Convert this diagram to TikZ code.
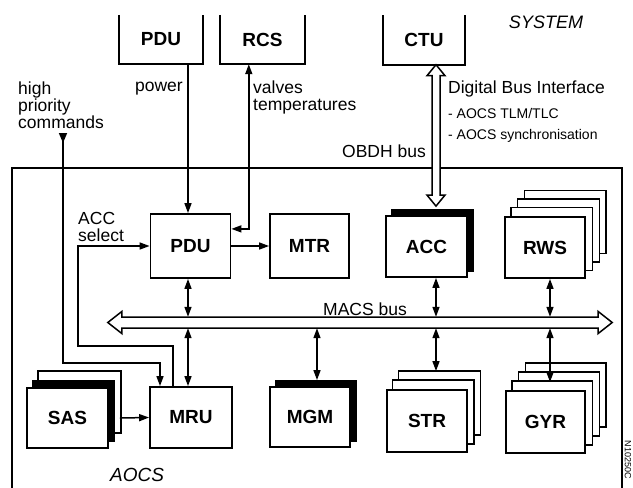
\documentclass[tikz,border=0pt]{standalone}
\usepackage{fontspec}
\setmainfont{Liberation Sans}
\usetikzlibrary{arrows.meta,calc,backgrounds}
\begin{document}
\begin{tikzpicture}[x=1pt,y=-1pt,
  boxlbl/.style={font=\fontsize{19}{19}\selectfont\bfseries},
  unitbox/.style={draw, line width=1.8pt, fill=white, minimum width=80pt, minimum height=62pt, inner sep=0pt, boxlbl},
  sysbox/.style={minimum width=84pt, minimum height=49pt, inner sep=0pt, boxlbl},
  pagebox/.style={draw, line width=1.4pt, fill=white},
  shadowfill/.style={fill=black, draw=black, line width=1pt},
  lbl/.style={font=\fontsize{17.5}{17}\selectfont, inner sep=0pt},
  smalllbl/.style={font=\fontsize{14}{15}\selectfont, inner sep=0pt},
  conn/.style={line width=1.5pt},
  onearrow/.style={-{Triangle[length=10pt,width=7pt]}},
  twoway/.style={{Triangle[length=10pt,width=7pt]}-{Triangle[length=10pt,width=7pt]}},
  hollow/.style={draw, line width=1.5pt, fill=white, line join=miter},
]
\useasboundingbox (0,0) rectangle (633,488);

% ---------- system level ----------
\node[sysbox] (sPDU) at (161,39.5) {PDU};
\node[sysbox, minimum width=85pt] (sRCS) at (262.5,39.5) {RCS};
\node[sysbox, minimum width=82pt] (sCTU) at (424,40) {CTU};
\foreach \n in {sPDU,sRCS,sCTU}
  \draw[line width=1.8pt] (\n.north west) -- (\n.south west) -- (\n.south east) -- (\n.north east);
\node[lbl, font=\fontsize{18}{18}\selectfont\itshape] (sysl) at (546,22) {SYSTEM};

% ---------- AOCS frame ----------
\draw[line width=1.8pt] (12,488) -- (12,168) -- (622,168) -- (622,488);
\node[lbl, font=\fontsize{19}{19}\selectfont\itshape] (aocsl) at (137,475) {AOCS};
\node[font=\fontsize{9}{9}\selectfont, rotate=-90, inner sep=0pt] (code) at (628,460) {N10250C};

% ---------- units ----------
\node[unitbox, minimum height=64pt] (aPDU) at (190.5,246) {PDU};
\node[unitbox, minimum width=79pt, minimum height=64pt] (MTR) at (309.5,246) {MTR};
\node[unitbox, minimum width=81pt, minimum height=61pt] (ACC) at (426.5,246.5) {ACC};
\node[unitbox, minimum height=61pt] (RWS) at (545,247.5) {RWS};
\node[unitbox, minimum width=81pt, minimum height=60pt] (SAS) at (67.5,418) {SAS};
\node[unitbox, minimum width=82pt, minimum height=61pt] (MRU) at (191,417.5) {MRU};
\node[unitbox, minimum height=60pt] (MGM) at (310,417) {MGM};
\node[unitbox] (STR) at (427,421) {STR};
\node[unitbox, minimum width=79pt] (GYR) at (545.5,422) {GYR};

\begin{pgfonlayer}{background}
  \foreach \k in {3,2,1}
    \draw[pagebox] ([shift={(6.7*\k,-8.5*\k)}]RWS.south west) rectangle ([shift={(6.7*\k,-8.5*\k)}]RWS.north east);
  \foreach \k in {3,2,1}
    \draw[pagebox] ([shift={(6.7*\k,-9*\k)}]GYR.south west) rectangle ([shift={(6.7*\k,-9*\k)}]GYR.north east);
  \foreach \k in {2,1}
    \draw[pagebox] ([shift={(6.2*\k,-9*\k)}]STR.south west) rectangle ([shift={(6.2*\k,-9*\k)}]STR.north east);
  \draw[pagebox] ([shift={(12,-16)}]SAS.south west) rectangle ([shift={(12,-16)}]SAS.north east);
  \draw[shadowfill] ([shift={(6,-7)}]SAS.south west) rectangle ([shift={(6,-7)}]SAS.north east);
  \draw[shadowfill] ([shift={(6,-6)}]ACC.south west) rectangle ([shift={(6,-6)}]ACC.north east);
  \draw[shadowfill] ([shift={(6,-6)}]MGM.south west) rectangle ([shift={(6,-6)}]MGM.north east);
\end{pgfonlayer}

% ---------- MACS bus ----------
\node[minimum width=504pt, minimum height=11pt, inner sep=0pt] (macs) at (360,322.5) {};
\draw[hollow] let \p1=(macs.west), \p2=(macs.east) in
  (\p1) -- (\x1+14pt,\y1+11pt) -- (\x1+14pt,\y1+5.5pt) -- (\x2-14pt,\y1+5.5pt)
  -- (\x2-14pt,\y1+11pt) -- (\p2) -- (\x2-14pt,\y1-11pt) -- (\x2-14pt,\y1-5.5pt)
  -- (\x1+14pt,\y1-5.5pt) -- (\x1+14pt,\y1-11pt) -- cycle;
\node[lbl] (macsl) at (365,309) {MACS bus};

% ---------- OBDH bus (CTU - ACC) ----------
\coordinate (ctut) at ([xshift=12pt]sCTU.south);
\coordinate (accb) at ([xshift=9.5pt,yshift=9pt]ACC.north);
\draw[hollow] let \p1=(ctut), \p2=(accb) in
  (\p1) -- (\x1+9pt,\y1-11pt) -- (\x1+4pt,\y1-11pt) -- (\x1+4pt,\y2+11pt)
  -- (\x1+9pt,\y2+11pt) -- (\x1,\y2) -- (\x1-9pt,\y2+11pt) -- (\x1-4pt,\y2+11pt)
  -- (\x1-4pt,\y1-11pt) -- (\x1-9pt,\y1-11pt) -- cycle;
\node[lbl, anchor=east] (obdhl) at (426,151) {OBDH bus};
\node[lbl, anchor=west] (dbil) at (448,89) {Digital Bus Interface};
\node[smalllbl, anchor=west] (tlml) at (448,113) {- AOCS TLM/TLC};
\node[smalllbl, anchor=west] (syncl) at (448,136) {- AOCS synchronisation};

% ---------- power ----------
\coordinate (pwx) at ([xshift=-2.5pt]aPDU.north);
\draw[conn, onearrow] (sPDU.south -| pwx) -- (pwx);
\node[lbl, anchor=east] (powl) at (183,89) {power};

% ---------- RCS ----------
\coordinate (rcsx) at ([xshift=29pt]sRCS.south west);
\coordinate (pduin) at ($(aPDU.north east)!0.24!(aPDU.south east)$);
\draw[conn, twoway] (rcsx) |- (pduin);
\node[lbl, anchor=west, align=left] (valvl) at (253,97) {valves\\temperatures};

% ---------- high priority commands ----------
\node[lbl, anchor=north west, align=left] (hpl) at (18,82) {high\\priority\\commands};
\coordinate (hpc) at (63,133);
\coordinate (hpin) at ([xshift=-31pt]MRU.north);
\draw[conn, {Triangle[reversed,length=10pt,width=8pt]}-{Triangle[length=10pt,width=7pt]}] (hpc) -- ++(0,230) -| (hpin);

% ---------- ACC select ----------
\coordinate (accsel) at ([xshift=-18pt]MRU.north);
\draw[conn, onearrow] (accsel) -- ++(0,-40) -- ++(-95,0) |- (aPDU.west);
\node[lbl, anchor=west, align=left] (accl) at (78,227) {ACC\\select};

% ---------- PDU -> MTR ----------
\draw[conn, onearrow] (aPDU.east) -- (MTR.west);

% ---------- SAS -> MRU ----------
\draw[conn, onearrow] ([xshift=11pt]SAS.east) -- (MRU.west);

% ---------- bus connections ----------
\coordinate (pdub) at ([xshift=-2.5pt]aPDU.south);
\draw[conn, twoway] (pdub) -- (pdub |- macs.north);
\coordinate (accs) at ([xshift=9.5pt]ACC.south);
\draw[conn, twoway] (accs) -- (accs |- macs.north);
\coordinate (rwss) at ([xshift=5pt]RWS.south);
\draw[conn, twoway] (rwss) -- (rwss |- macs.north);
\coordinate (mrun) at ([xshift=-3pt]MRU.north);
\draw[conn, twoway] (mrun |- macs.south) -- (mrun);
\coordinate (mgmn) at ([xshift=7pt,yshift=6pt]MGM.north);
\draw[conn, twoway] (mgmn |- macs.south) -- (mgmn);
\coordinate (strn) at ([xshift=9pt,yshift=18pt]STR.north);
\draw[conn, twoway] (strn |- macs.south) -- (strn);
\coordinate (gyrn) at ([xshift=4.5pt,yshift=8pt]GYR.north);
\draw[conn, twoway] (gyrn |- macs.south) -- (gyrn);
\end{tikzpicture}
\end{document}
